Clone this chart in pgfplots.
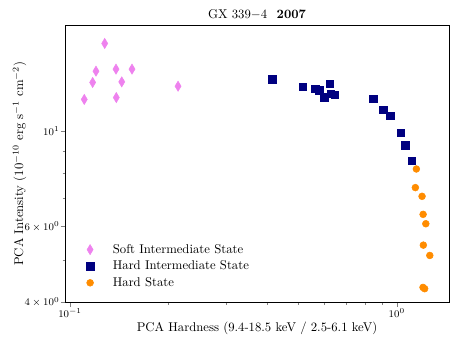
\documentclass[border=0pt]{standalone}
\usepackage{pgfplots}
\pgfplotsset{compat=1.18}
\definecolor{violetm}{RGB}{238,130,238}
\definecolor{navym}{RGB}{0,0,128}
\definecolor{darkorangem}{RGB}{255,140,0}
\begin{document}
\begin{tikzpicture}
  \begin{axis}[
    scale only axis,
    width=302pt, height=218pt,
    xmode=log, ymode=log,
    xmin=0.0966, xmax=1.445,
    ymin=4, ymax=17.67,
    xtick={0.1,1}, xticklabels={$10^{-1}$,$10^{0}$},
    minor xtick={0.2,0.3,0.4,0.5,0.6,0.7,0.8,0.9},
    ytick={4,6,10}, yticklabels={$4\times10^{0}$,$6\times10^{0}$,$10^{1}$},
    minor ytick={5,7,8,9},
    tick pos=left, tick align=outside,
    major tick length=3.5pt, minor tick length=2pt,
    tick label style={font=\footnotesize},
    xticklabel style={yshift=2pt},
    yticklabel style={xshift=2.5pt},
    axis line style={line width=0.8pt},
    every axis title shift=0pt,
    title={GX 339$-$4\hspace{0.75em}\textbf{2007}},
    title style={at={(axis description cs:0.5,1)}, anchor=base, yshift=5.5pt},
    xlabel={PCA Hardness (9.4-18.5 keV / 2.5-6.1 keV)},
    xlabel style={at={(axis description cs:0.5,0)}, anchor=base, yshift=-23pt},
    ylabel={PCA Intensity ($10^{-10}$ erg s$^{-1}$ cm$^{-2}$)},
    ylabel style={at={(axis description cs:-0.109,0.5)}, anchor=base},
    legend cell align=left,
    legend style={at={(0.045,0.031)}, anchor=south west, draw=none, fill=none,
      row sep=0.5pt, /tikz/every odd column/.append style={column sep=13pt}},
  ]
    % soft intermediate state
    \addplot[only marks, mark=diamond*, mark size=4pt, color=violetm,
      mark options={xscale=0.8}] coordinates {
      (0.1106,11.86) (0.1173,12.99) (0.1201,13.80) (0.1277,16.01)
      (0.1383,13.95) (0.1386,11.98) (0.1440,13.03) (0.1548,13.95)
      (0.2141,12.73)};
    \addlegendentry{Soft Intermediate State}
    % hard intermediate state
    \addplot[only marks, mark=square*, mark size=2.9pt, color=navym] coordinates {
      (0.4161,13.22) (0.5157,12.68) (0.5634,12.57) (0.5796,12.46)
      (0.6004,12.00) (0.6236,12.92) (0.6294,12.22) (0.6460,12.15)
      (0.8480,11.92) (0.9100,11.21) (0.9539,10.88) (1.0286,9.909)
      (1.0625,9.276) (1.1138,8.525)};
    \addlegendentry{Hard Intermediate State}
    % hard state
    \addplot[only marks, mark=*, mark size=2.7pt, color=darkorangem] coordinates {
      (1.148,8.168) (1.140,7.393) (1.195,7.056) (1.204,6.405)
      (1.227,6.091) (1.206,5.431) (1.262,5.139) (1.203,4.33)
      (1.217,4.30)};
    \addlegendentry{Hard State}
  \end{axis}
  \pgfresetboundingbox
  \path ([shift={(-51.2pt,-35.7pt)}]current axis.south west)
    rectangle ([shift={(11pt,19.7pt)}]current axis.north east);
\end{tikzpicture}
\end{document}
